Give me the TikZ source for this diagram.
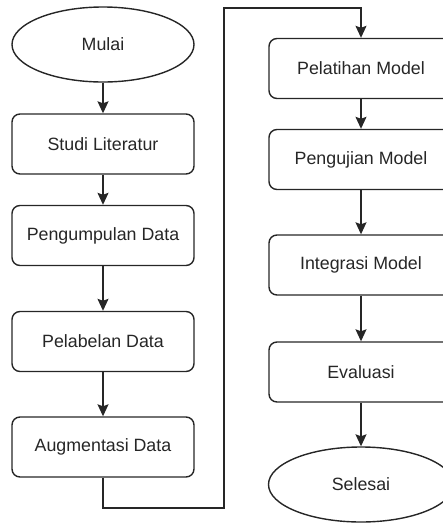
\documentclass[tikz,border=0pt]{standalone}
\usepackage{fontspec}
\setmainfont{Liberation Sans}
\usepackage{tikz}
\usetikzlibrary{arrows,arrows.meta,shapes,positioning}

\begin{document}
\begin{tikzpicture}[x=1pt,y=-1pt,
    proses/.style={draw=black!85,line width=1.4pt,rounded corners=8pt,minimum width=182pt,minimum height=60pt,text=black!85,font=\fontsize{17.8}{20}\selectfont},
    terminal/.style={draw=black!85,line width=1.4pt,ellipse,minimum width=182pt,minimum height=75pt,text=black!85,font=\fontsize{17.8}{20}\selectfont},
    panah/.style={draw=black!85,line width=1.4pt,-{Stealth[length=12pt,width=11pt,inset=2pt]}}]
            \useasboundingbox (0,0) rectangle (443,523);
            % kolom kiri
            \node[terminal] (mulai) at (103,44.5) {Mulai};
            \node[proses] (studi) at (103,144) {Studi Literatur};
            \node[proses] (kumpul) at (103,235.5) {Pengumpulan Data};
            \node[proses] (label) at (103,341.5) {Pelabelan Data};
            \node[proses] (augmen) at (103,447) {Augmentasi Data};
            % kolom kanan
            \node[proses,minimum width=184pt] (latih) at (361,68.5) {Pelatihan Model};
            \node[proses,minimum width=184pt] (uji) at (361,159.5) {Pengujian Model};
            \node[proses,minimum width=184pt] (integrasi) at (361,265) {Integrasi Model};
            \node[proses,minimum width=184pt] (evaluasi) at (361,372) {Evaluasi};
            \node[terminal,minimum width=185pt] (selesai) at (361,484.5) {Selesai};
            \coordinate (bawah) at (224,508);
            \coordinate (atas) at (224,8);
            \draw[panah] (mulai) -- (studi);
            \draw[panah] (studi) -- (kumpul);
            \draw[panah] (kumpul) -- (label);
            \draw[panah] (label) -- (augmen);
            \draw[panah] (augmen.south) |- (bawah) -- (atas) -| (latih.north);
            \draw[panah] (latih) -- (uji);
            \draw[panah] (uji) -- (integrasi);
            \draw[panah] (integrasi) -- (evaluasi);
            \draw[panah] (evaluasi) -- (selesai);
        \end{tikzpicture}
\end{document}
